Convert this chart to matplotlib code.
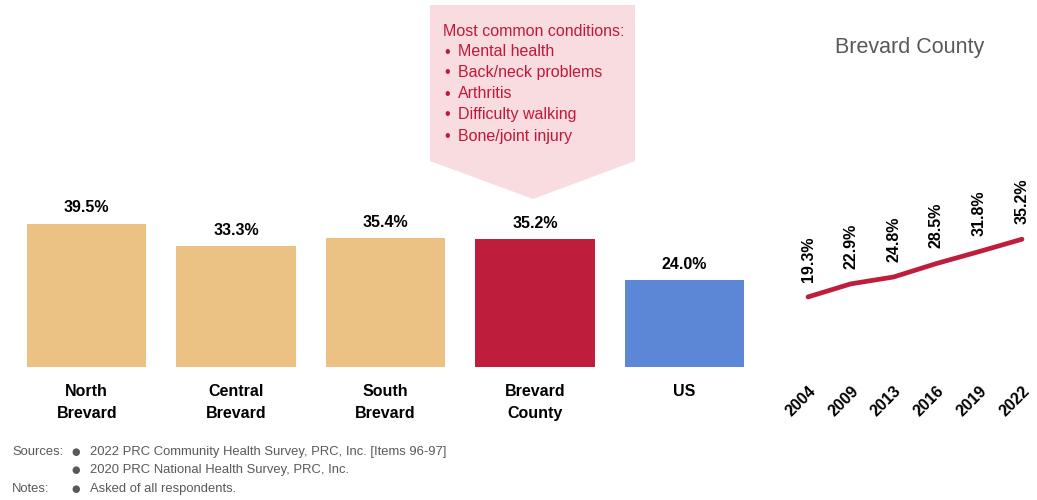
import matplotlib.pyplot as plt
from matplotlib.patches import Polygon

# ------------------------------
# DATA
# ------------------------------
areas = ['North\nBrevard', 'Central\nBrevard', 'South\nBrevard', 'Brevard\nCounty', 'US']
area_values = [39.5, 33.3, 35.4, 35.2, 24.0]
area_colors = ['#EBC283', '#EBC283', '#EBC283', '#BE1E3C', '#5B87D6']

years = ['2004', '2009', '2013', '2016', '2019', '2022']
trend_values = [19.3, 22.9, 24.8, 28.5, 31.8, 35.2]

conditions = ['Mental health', 'Back/neck problems', 'Arthritis',
              'Difficulty walking', 'Bone/joint injury']

plt.rcParams['font.family'] = ['Liberation Sans', 'DejaVu Sans']

W, H = 1037, 500
fig = plt.figure(figsize=(W / 100, H / 100), dpi=100)

def fx(px):
    return px / W

def fy(py):
    return 1 - py / H

# ------------------------------
# BAR CHART
# ------------------------------
ymax = 50
ax = fig.add_axes([fx(12), fy(367), fx(747), (ymax * 3.63) / H])
x = range(len(areas))
bars = ax.bar(x, area_values, width=0.8, color=area_colors)
for b, v in zip(bars, area_values):
    ax.annotate(f'{v:.1f}%', (b.get_x() + b.get_width() / 2, v),
                xytext=(0, 6), textcoords='offset points',
                ha='center', va='bottom', fontsize=11.5, fontweight='bold')
ax.set_xlim(-0.5, len(areas) - 0.5)
ax.set_ylim(0, ymax)
ax.set_xticks(list(x))
ax.set_xticklabels(areas, fontsize=11.5, fontweight='bold', linespacing=1.6)
ax.tick_params(axis='x', length=0, pad=12)
ax.set_yticks([])
for s in ax.spines.values():
    s.set_visible(False)
ax.patch.set_alpha(0)

# ------------------------------
# TREND LINE
# ------------------------------
step = 42.8
ax2 = fig.add_axes([fx(808 - 0.4 * step), fy(367), fx(5.8 * step), (ymax * 3.63) / H])
ax2.plot(range(len(years)), trend_values, color='#BE1E3C', lw=3.4,
         solid_capstyle='round', clip_on=False)
for i, v in enumerate(trend_values):
    ax2.annotate(f'{v:.1f}%', (i, v), xytext=(0, 11), textcoords='offset points',
                 rotation=90, ha='center', va='bottom', fontsize=11.5,
                 fontweight='bold', annotation_clip=False)
ax2.set_xlim(-0.4, len(years) - 0.6)
ax2.set_ylim(0, ymax)
ax2.set_xticks(range(len(years)))
ax2.set_xticklabels(years, rotation=45, ha='right', rotation_mode='anchor',
                    fontsize=11.5, fontweight='bold')
ax2.tick_params(axis='x', length=0, pad=12)
ax2.set_yticks([])
for s in ax2.spines.values():
    s.set_visible(False)
ax2.patch.set_alpha(0)

fig.text(fx(910), fy(48), 'Brevard County', ha='center', va='center',
         fontsize=15.5, color='#595959')

# ------------------------------
# CALLOUT
# ------------------------------
pts = [(430, 5), (635, 5), (635, 161), (533, 199), (430, 161)]
callout = Polygon([(fx(a), fy(b)) for a, b in pts], closed=True,
                  transform=fig.transFigure, facecolor='#F9DCDF',
                  edgecolor='none', zorder=0)
fig.patches.append(callout)
red = '#C0183A'
fig.text(fx(443), fy(32), 'Most common conditions:', va='center',
         fontsize=11.5, color=red)
for i, c in enumerate(conditions):
    yy = fy(52 + i * 21)
    fig.text(fx(444), yy, '•', va='center', fontsize=11.5, color=red)
    fig.text(fx(458), yy, c, va='center', fontsize=11.5, color=red)

# ------------------------------
# NOTES
# ------------------------------
gray = '#595959'
nf = dict(fontsize=9.4, color=gray, va='center')
fig.text(fx(12), fy(452), 'Sources:', **nf)
fig.text(fx(12), fy(489), 'Notes:', **nf)
notes = ['2022 PRC Community Health Survey, PRC, Inc. [Items 96-97]',
         '2020 PRC National Health Survey, PRC, Inc.',
         'Asked of all respondents.']
for i, n in enumerate(notes):
    yy = fy(452 + i * 18.5)
    fig.text(fx(76), yy, '●', ha='center', fontsize=7, color=gray, va='center',
             family='DejaVu Sans')
    fig.text(fx(90), yy, n, **nf)

fig.savefig('out.png', dpi=100)
